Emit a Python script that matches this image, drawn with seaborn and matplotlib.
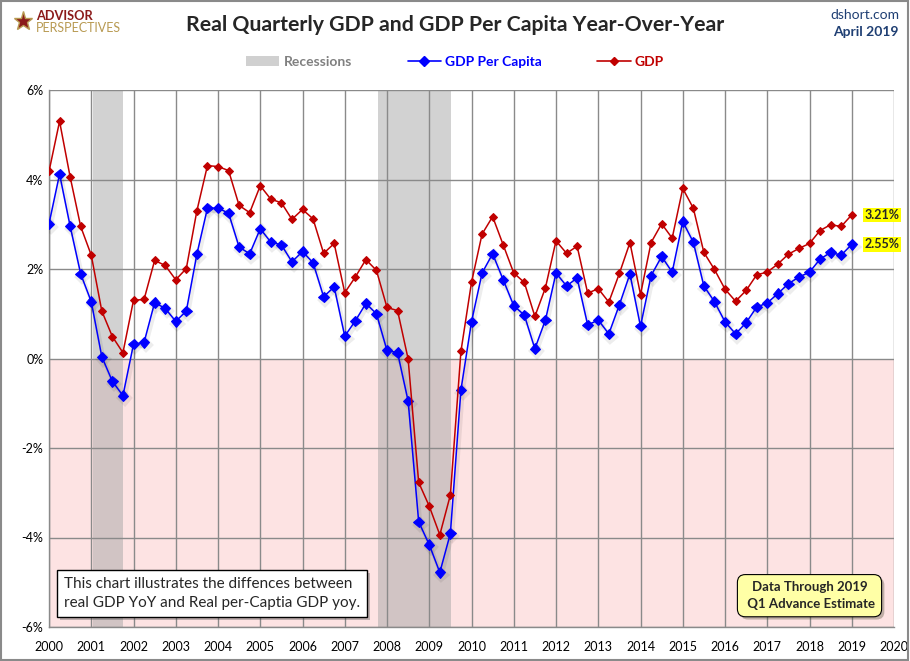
import numpy as np
import pandas as pd
import matplotlib
matplotlib.use("Agg")
import matplotlib.pyplot as plt
import matplotlib.patheffects as pe
from matplotlib.patches import Rectangle, FancyBboxPatch
from matplotlib.lines import Line2D
from matplotlib.patches import Patch
import seaborn as sns

# ---------------- data ----------------
years = list(range(2000, 2020))
gdp = [4.18, 5.30, 4.06, 2.95,
       2.31, 1.06, 0.49, 0.13,
       1.30, 1.32, 2.19, 2.08,
       1.76, 2.01, 3.30, 4.31,
       4.29, 4.20, 3.42, 3.26,
       3.86, 3.56, 3.48, 3.11,
       3.33, 3.12, 2.35, 2.57,
       1.47, 1.82, 2.21, 1.97,
       1.14, 1.07, -0.01, -2.77,
       -3.30, -3.94, -3.05, 0.16,
       1.70, 2.78, 3.17, 2.54,
       1.91, 1.70, 0.94, 1.58,
       2.63, 2.35, 2.51, 1.46,
       1.56, 1.26, 1.90, 2.59,
       1.43, 2.59, 3.01, 2.69,
       3.80, 3.36, 2.37, 1.99,
       1.55, 1.28, 1.52, 1.87,
       1.93, 2.11, 2.33, 2.46,
       2.57, 2.86, 2.99, 2.95,
       3.21]
gdp_per_capita = [3.01, 4.12, 2.96, 1.89,
                  1.27, 0.04, -0.51, -0.83,
                  0.32, 0.36, 1.25, 1.12,
                  0.83, 1.06, 2.33, 3.36,
                  3.36, 3.25, 2.49, 2.34,
                  2.90, 2.60, 2.54, 2.16,
                  2.39, 2.14, 1.38, 1.60,
                  0.50, 0.84, 1.23, 1.00,
                  0.18, 0.13, -0.95, -3.65,
                  -4.16, -4.78, -3.91, -0.70,
                  0.82, 1.91, 2.34, 1.76,
                  1.18, 0.97, 0.22, 0.86,
                  1.91, 1.62, 1.80, 0.75,
                  0.86, 0.55, 1.20, 1.89,
                  0.72, 1.85, 2.28, 1.93,
                  3.06, 2.60, 1.62, 1.27,
                  0.82, 0.55, 0.80, 1.15,
                  1.24, 1.45, 1.67, 1.82,
                  1.93, 2.22, 2.37, 2.31,
                  2.55]
n = len(gdp)
time = [2000 + i * 0.25 for i in range(n)]
recessions = [(2001.03, 2001.76), (2007.79, 2009.51)]
y_ticks = [-6, -4, -2, 0, 2, 4, 6]
x_ticks = list(range(2000, 2021))

df = pd.DataFrame({"time": time, "GDP": gdp, "GDP Per Capita": gdp_per_capita})

# ---------------- style ----------------
sns.set_style("white")
plt.rcParams["font.family"] = ["Lato", "DejaVu Sans"]

fig = plt.figure(figsize=(9.10, 6.61), dpi=100)
ax = fig.add_axes([49 / 910, 1 - 627 / 661, (894 - 49) / 910, (627 - 90) / 661])

BLUE = "#0000ff"
RED = "#c00000"
GRID = "#8a8a8a"

# pink negative region
ax.axhspan(-6, 0, color="#fde3e3", zorder=0.5, lw=0)
# recessions
for a, b in recessions:
    ax.axvspan(a, b, color="#a6a6a6", alpha=0.5, lw=0, zorder=0.8)

shadow = [pe.SimpleLineShadow(offset=(1.2, -2.0), shadow_color="#000000", alpha=0.07, linewidth=3),
          pe.Normal()]

sns.lineplot(data=df, x="time", y="GDP Per Capita", ax=ax, color=BLUE, lw=1.1,
             marker="D", markersize=5.3, markeredgecolor=BLUE, zorder=3,
             path_effects=shadow)
sns.lineplot(data=df, x="time", y="GDP", ax=ax, color=RED, lw=1.1,
             marker="D", markersize=4.3, markeredgecolor=RED, zorder=4)

ax.set_xlim(2000, 2020)
ax.set_ylim(-6, 6)
ax.set_xticks(x_ticks)
ax.set_xticklabels([str(y) for y in x_ticks])
ax.set_yticks(y_ticks)
ax.set_yticklabels([f"{v}%" for v in y_ticks])
ax.set_xlabel("")
ax.set_ylabel("")
ax.set_axisbelow(False)
ax.grid(True, color=GRID, lw=1.0, zorder=1)
for s in ["top", "right"]:
    ax.spines[s].set_visible(False)
for s in ["left", "bottom"]:
    ax.spines[s].set_color(GRID)
    ax.spines[s].set_linewidth(1.0)
ax.tick_params(axis="both", length=0, labelsize=9, colors="black")
ax.tick_params(axis="x", pad=10)
ax.tick_params(axis="y", pad=4)

# last value labels
ax.annotate(f"{gdp[-1]:.2f}%", xy=(time[-1], gdp[-1]), xytext=(9, 0), textcoords="offset points",
            ha="left", va="center", fontsize=9, fontweight="bold",
            bbox=dict(boxstyle="square,pad=0.1", fc="#ffff00", ec="none"), zorder=6)
ax.annotate(f"{gdp_per_capita[-1]:.2f}%", xy=(time[-1], gdp_per_capita[-1]), xytext=(9, 0),
            textcoords="offset points", ha="left", va="center", fontsize=9, fontweight="bold",
            bbox=dict(boxstyle="square,pad=0.1", fc="#ffff00", ec="none"), zorder=6)

# text boxes
ax.text(2000.35, -5.25,
        "This chart illustrates the diffences between\nreal GDP YoY and Real per-Captia GDP yoy.",
        ha="left", va="center", fontsize=11, linespacing=1.45, zorder=7,
        bbox=dict(boxstyle="square,pad=0.45", fc="white", ec="black", lw=1,
                  path_effects=[pe.SimplePatchShadow(offset=(2, -2), alpha=0.35), pe.Normal()]))
ax.text(2018.0, -5.3, "Data Through 2019\n Q1 Advance Estimate",
        ha="center", va="center", fontsize=9.5, fontweight="bold", linespacing=1.5, zorder=7,
        bbox=dict(boxstyle="round,pad=0.5,rounding_size=0.6", fc="#ffffa6", ec="black", lw=0.8,
                  path_effects=[pe.SimplePatchShadow(offset=(2, -2), alpha=0.35), pe.Normal()]))

# title & header
fig.text(455 / 910, 1 - 25 / 661, "Real Quarterly GDP and GDP Per Capita Year-Over-Year",
         ha="center", va="center", fontsize=15.3, fontweight="bold")
fig.text(899 / 910, 1 - 15 / 661, "dshort.com", ha="right", va="center", fontsize=10,
         color="#1f3f73")
fig.text(899 / 910, 1 - 32 / 661, "April 2019", ha="right", va="center", fontsize=10,
         color="#1f3f73", fontweight="bold")

# logo
fig.text(36 / 910, 1 - 20 / 661, "ADVISOR", ha="left", va="baseline", fontsize=9.2,
         fontweight="bold", color="#8b1a1a")
fig.text(36 / 910, 1 - 32.5 / 661, "PERSPECTIVES", ha="left", va="baseline", fontsize=9,
         color="#b89a52")
fig.lines.append(Line2D([23 / 910], [1 - 21 / 661], transform=fig.transFigure, marker="*",
                        markersize=14, color="#8b1a1a", markeredgecolor="#b89a52"))

# legend
handles = [Patch(facecolor="#d0d0d0", edgecolor="none"),
           Line2D([], [], color=BLUE, lw=1.2, marker="D", markersize=5),
           Line2D([], [], color=RED, lw=1.2, marker="D", markersize=4)]
labels = ["Recessions", "GDP Per Capita", "GDP"]
fig.legend(handles, labels, loc="center", bbox_to_anchor=(455 / 910, 1 - 62 / 661), ncol=3,
           frameon=False, prop={"size": 10, "weight": "bold"},
           labelcolor=["#808080", BLUE, RED], columnspacing=4.0, handlelength=2.4,
           handletextpad=0.3)

# outer border
fig.patches.append(Rectangle((0.001, 0.001), 0.997, 0.997, transform=fig.transFigure,
                             fill=False, ec="#8a8a8a", lw=1.5))

fig.savefig("out.png", dpi=100)
